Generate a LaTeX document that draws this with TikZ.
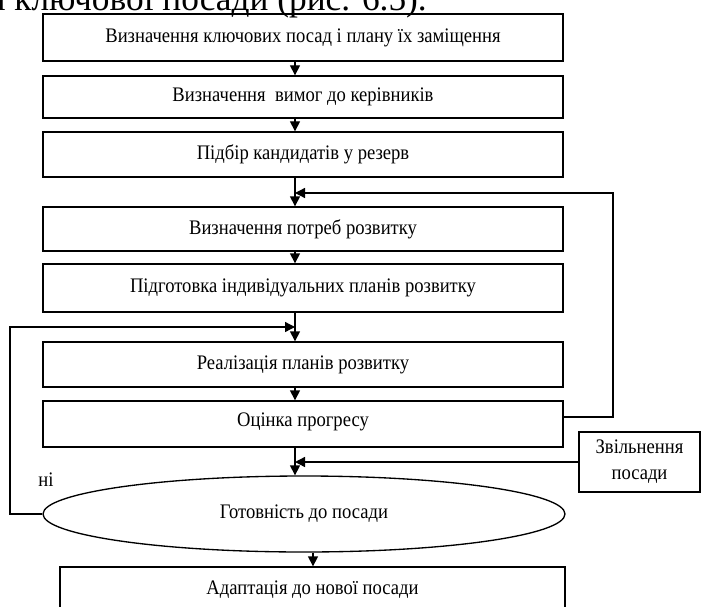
\documentclass[tikz,border=0pt]{standalone}
\usepackage{fontspec}
\setmainfont{Liberation Serif}
\newfontfamily\dfont[FakeStretch=0.9]{Liberation Serif}
\usetikzlibrary{arrows.meta,shapes.geometric,calc}
\begin{document}
\begin{tikzpicture}[x=0.75pt,y=-0.75pt,
  box/.style={draw,line width=1pt,inner sep=0pt,font=\dfont\fontsize{15.5}{17}\selectfont},
  arr/.style={line width=1pt,-{Triangle[length=7.5pt,width=7.5pt]}},
  ln/.style={line width=1pt}]
\useasboundingbox (0,0) rectangle (702,606);
\clip (0,0) rectangle (702,606);
\node[anchor=base west,inner sep=0pt,font=\fontsize{26.5}{30}\selectfont] (top) at (-11,11) {я ключової посади (рис. 6.5).};
\node[box,minimum width=390pt,minimum height=35.25pt] (b1) at (303,37.5) {Визначення ключових посад і плану їх заміщення};
\node[box,minimum width=390pt,minimum height=31.5pt] (b2) at (303,97) {Визначення\ \ вимог до керівників};
\node[box,minimum width=390pt,minimum height=33.75pt] (b3) at (303,154.5) {Підбір кандидатів у резерв};
\node[box,minimum width=390pt,minimum height=33pt] (b4) at (303,229) {Визначення потреб розвитку};
\node[box,minimum width=390pt,minimum height=36pt] (b5) at (303,288) {Підготовка індивідуальних планів розвитку};
\node[box,minimum width=390pt,minimum height=33.75pt] (b6) at (303,364.5) {Реалізація планів розвитку};
\node[box,minimum width=390pt,minimum height=34.5pt,text depth=7pt] (b7) at (303,424) {Оцінка прогресу};
\node[box,minimum width=90.75pt,minimum height=45pt,align=center,font=\dfont\fontsize{15.5}{19.5}\selectfont] (z) at (639.5,462) {Звільнення\\посади};
\node[box,ellipse,minimum width=391.5pt,minimum height=57pt] (e) at (304,514) {Готовність до посади};
\node[box,minimum width=378.75pt,minimum height=34.5pt] (b8) at (312.5,590) {Адаптація до нової посади};
\node[inner sep=0pt,font=\dfont\fontsize{15.5}{17}\selectfont] (ni) at (46,480) {ні};
\coordinate (ax) at (295,0);
\coordinate (bx) at (313,0);
\coordinate (rt) at (613,193);
\coordinate (lf) at (10,327);
\coordinate (ry) at (0,417);
\draw[arr] (b1.south -| ax) -- (b2.north -| ax);
\draw[arr] (b2.south -| ax) -- (b3.north -| ax);
\draw[arr] (b3.south -| ax) -- (b4.north -| ax);
\draw[arr] (b4.south -| ax) -- (b5.north -| ax);
\draw[arr] (b5.south -| ax) -- (b6.north -| ax);
\draw[arr] (b6.south -| ax) -- (b7.north -| ax);
\draw[arr] (b7.south -| ax) -- (e.north -| ax);
\draw[arr] (e.south -| bx) -- (b8.north -| bx);
\draw[arr] (b7.east |- ry) -| (rt) -- (rt -| ax);
\draw[arr] (e.west) -| (lf) -- (lf -| ax);
\draw[arr] (z.west) -- (z.west -| ax);
\end{tikzpicture}
\end{document}
